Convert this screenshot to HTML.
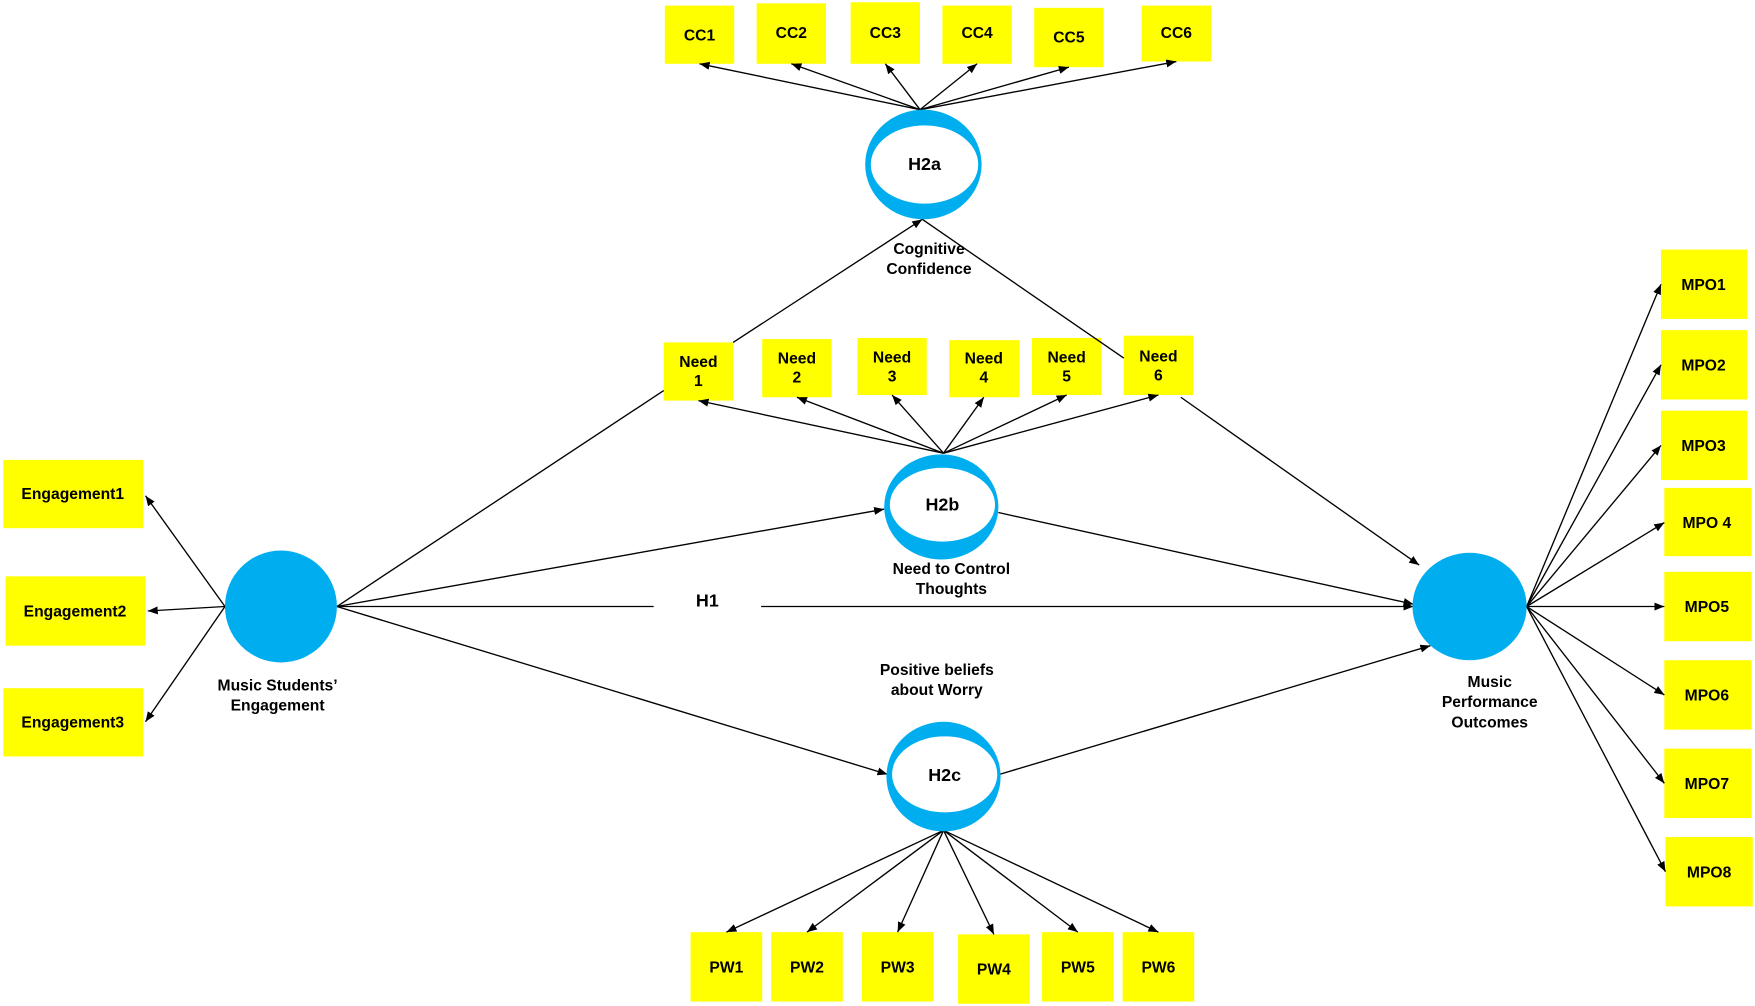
<!DOCTYPE html>
<html><head><meta charset="utf-8"><style>
html,body{margin:0;padding:0;background:#fff;}
svg{display:block;}
text{font-family:"Liberation Sans",sans-serif;font-weight:bold;fill:#000;}
</style></head><body>
<svg width="1755" height="1006" viewBox="0 0 1568 899" preserveAspectRatio="none" xmlns="http://www.w3.org/2000/svg">
<defs>
<marker id="a" viewBox="0 0 10 10" refX="10" refY="5" markerWidth="9" markerHeight="9" markerUnits="userSpaceOnUse" orient="auto"><path d="M0,1 L10,5 L0,9 z" fill="#000"/></marker>
</defs>
<g fill="#ffff00">
<rect x="594" y="5" width="62" height="52"/><rect x="676" y="3" width="62" height="54"/><rect x="760" y="2" width="62" height="55"/><rect x="842" y="5" width="62" height="52"/><rect x="924" y="7" width="62" height="53"/><rect x="1020" y="5" width="62" height="50"/>
<rect x="593" y="306" width="62" height="52"/><rect x="681" y="303" width="62" height="52"/><rect x="766" y="302" width="62" height="51"/><rect x="848" y="304" width="63" height="51"/><rect x="922" y="302" width="62" height="51"/><rect x="1004" y="300" width="62" height="53"/>
<rect x="3" y="411" width="125" height="61"/><rect x="5" y="515" width="125" height="62"/><rect x="3" y="615" width="125" height="61"/>
<rect x="617" y="833" width="64" height="62"/><rect x="689" y="833" width="64" height="62"/><rect x="770" y="833" width="64" height="62"/><rect x="856" y="835" width="64" height="62"/><rect x="931" y="833" width="64" height="62"/><rect x="1003" y="833" width="64" height="62"/>
<rect x="1484" y="223" width="77" height="62"/><rect x="1484" y="295" width="77" height="62"/><rect x="1484" y="367" width="77" height="62"/><rect x="1487" y="436" width="78" height="61"/><rect x="1487" y="511" width="78" height="62"/><rect x="1487" y="590" width="78" height="62"/><rect x="1487" y="669" width="78" height="62"/><rect x="1488" y="748" width="78" height="62"/>
</g>
<g stroke="#000" stroke-width="1.2" fill="none" marker-end="url(#a)">
<line x1="822" y1="98" x2="625" y2="57"/><line x1="822" y1="98" x2="707" y2="57"/><line x1="822" y1="98" x2="791" y2="57"/><line x1="822" y1="98" x2="873" y2="57"/><line x1="822" y1="98" x2="955" y2="60"/><line x1="822" y1="98" x2="1051" y2="55"/>
<line x1="843" y1="405" x2="624" y2="358"/><line x1="843" y1="405" x2="712" y2="355"/><line x1="843" y1="405" x2="797" y2="353"/><line x1="843" y1="405" x2="879" y2="355"/><line x1="843" y1="405" x2="953" y2="353"/><line x1="843" y1="405" x2="1035" y2="353"/>
<line x1="843" y1="742" x2="649" y2="833"/><line x1="843" y1="742" x2="721" y2="833"/><line x1="843" y1="742" x2="802" y2="833"/><line x1="843" y1="742" x2="888" y2="835"/><line x1="843" y1="742" x2="963" y2="833"/><line x1="843" y1="742" x2="1035" y2="833"/>
<line x1="201" y1="542" x2="130" y2="443"/><line x1="201" y1="542" x2="132" y2="546"/><line x1="201" y1="542" x2="130" y2="645"/>
<line x1="1364" y1="542" x2="1484" y2="254"/><line x1="1364" y1="542" x2="1484" y2="326"/><line x1="1364" y1="542" x2="1484" y2="398"/><line x1="1364" y1="542" x2="1487" y2="467"/><line x1="1364" y1="542" x2="1487" y2="542"/><line x1="1364" y1="542" x2="1487" y2="621"/><line x1="1364" y1="542" x2="1487" y2="700"/><line x1="1364" y1="542" x2="1488" y2="779"/>
<line x1="655" y1="306" x2="824" y2="196"/>
<line x1="1055" y1="355" x2="1268" y2="505"/>
<line x1="301" y1="542" x2="790" y2="455"/>
<line x1="892" y1="458" x2="1263" y2="540"/>
<line x1="301" y1="542" x2="793" y2="692"/>
<line x1="893" y1="692" x2="1278" y2="577"/>
<line x1="680" y1="542" x2="1263" y2="542"/>
</g>
<g stroke="#000" stroke-width="1.2" fill="none">
<line x1="301" y1="542" x2="593" y2="349"/>
<line x1="824" y1="196" x2="1004" y2="320"/>
<line x1="301" y1="542" x2="584" y2="542"/>
</g>
<g fill="#00aeef">
<circle cx="251" cy="542" r="50"/>
<ellipse cx="1313" cy="542" rx="51" ry="48"/>
<ellipse cx="825" cy="147" rx="52" ry="49"/>
<ellipse cx="841" cy="453" rx="51" ry="47"/>
<ellipse cx="843" cy="694" rx="51" ry="49"/>
</g>
<g fill="#fff">
<ellipse cx="826" cy="147" rx="48" ry="35"/>
<ellipse cx="842" cy="451" rx="47" ry="33"/>
<ellipse cx="844" cy="692" rx="47" ry="34"/>
</g>
<g font-size="14" text-anchor="middle">
<text x="826" y="152" font-size="16" font-weight="normal">H2a</text>
<text x="842" y="456" font-size="16" font-weight="normal">H2b</text>
<text x="844" y="698" font-size="16" font-weight="normal">H2c</text>
<text x="632" y="542" font-size="16" font-weight="normal">H1</text>
<text x="625" y="36">CC1</text><text x="707" y="34">CC2</text><text x="791" y="34">CC3</text><text x="873" y="34">CC4</text><text x="955" y="38">CC5</text><text x="1051" y="34">CC6</text>
<text x="624" y="328">Need</text><text x="624" y="345">1</text>
<text x="712" y="325">Need</text><text x="712" y="342">2</text>
<text x="797" y="324">Need</text><text x="797" y="341">3</text>
<text x="879" y="325">Need</text><text x="879" y="342">4</text>
<text x="953" y="324">Need</text><text x="953" y="341">5</text>
<text x="1035" y="323">Need</text><text x="1035" y="340">6</text>
<text x="830" y="227">Cognitive</text><text x="830" y="245">Confidence</text>
<text x="850" y="513">Need to Control</text><text x="850" y="531">Thoughts</text>
<text x="837" y="603">Positive beliefs</text><text x="837" y="621">about Worry</text>
<text x="248" y="617">Music Students’</text><text x="248" y="635">Engagement</text>
<text x="1331" y="614">Music</text><text x="1331" y="632">Performance</text><text x="1331" y="650">Outcomes</text>
<text x="65" y="446">Engagement1</text><text x="67" y="551">Engagement2</text><text x="65" y="650">Engagement3</text>
<text x="649" y="869">PW1</text><text x="721" y="869">PW2</text><text x="802" y="869">PW3</text><text x="888" y="871">PW4</text><text x="963" y="869">PW5</text><text x="1035" y="869">PW6</text>
<text x="1522" y="259">MPO1</text><text x="1522" y="331">MPO2</text><text x="1522" y="403">MPO3</text><text x="1525" y="472">MPO 4</text><text x="1525" y="547">MPO5</text><text x="1525" y="626">MPO6</text><text x="1525" y="705">MPO7</text><text x="1527" y="784">MPO8</text>
</g>
</svg>
</body></html>
